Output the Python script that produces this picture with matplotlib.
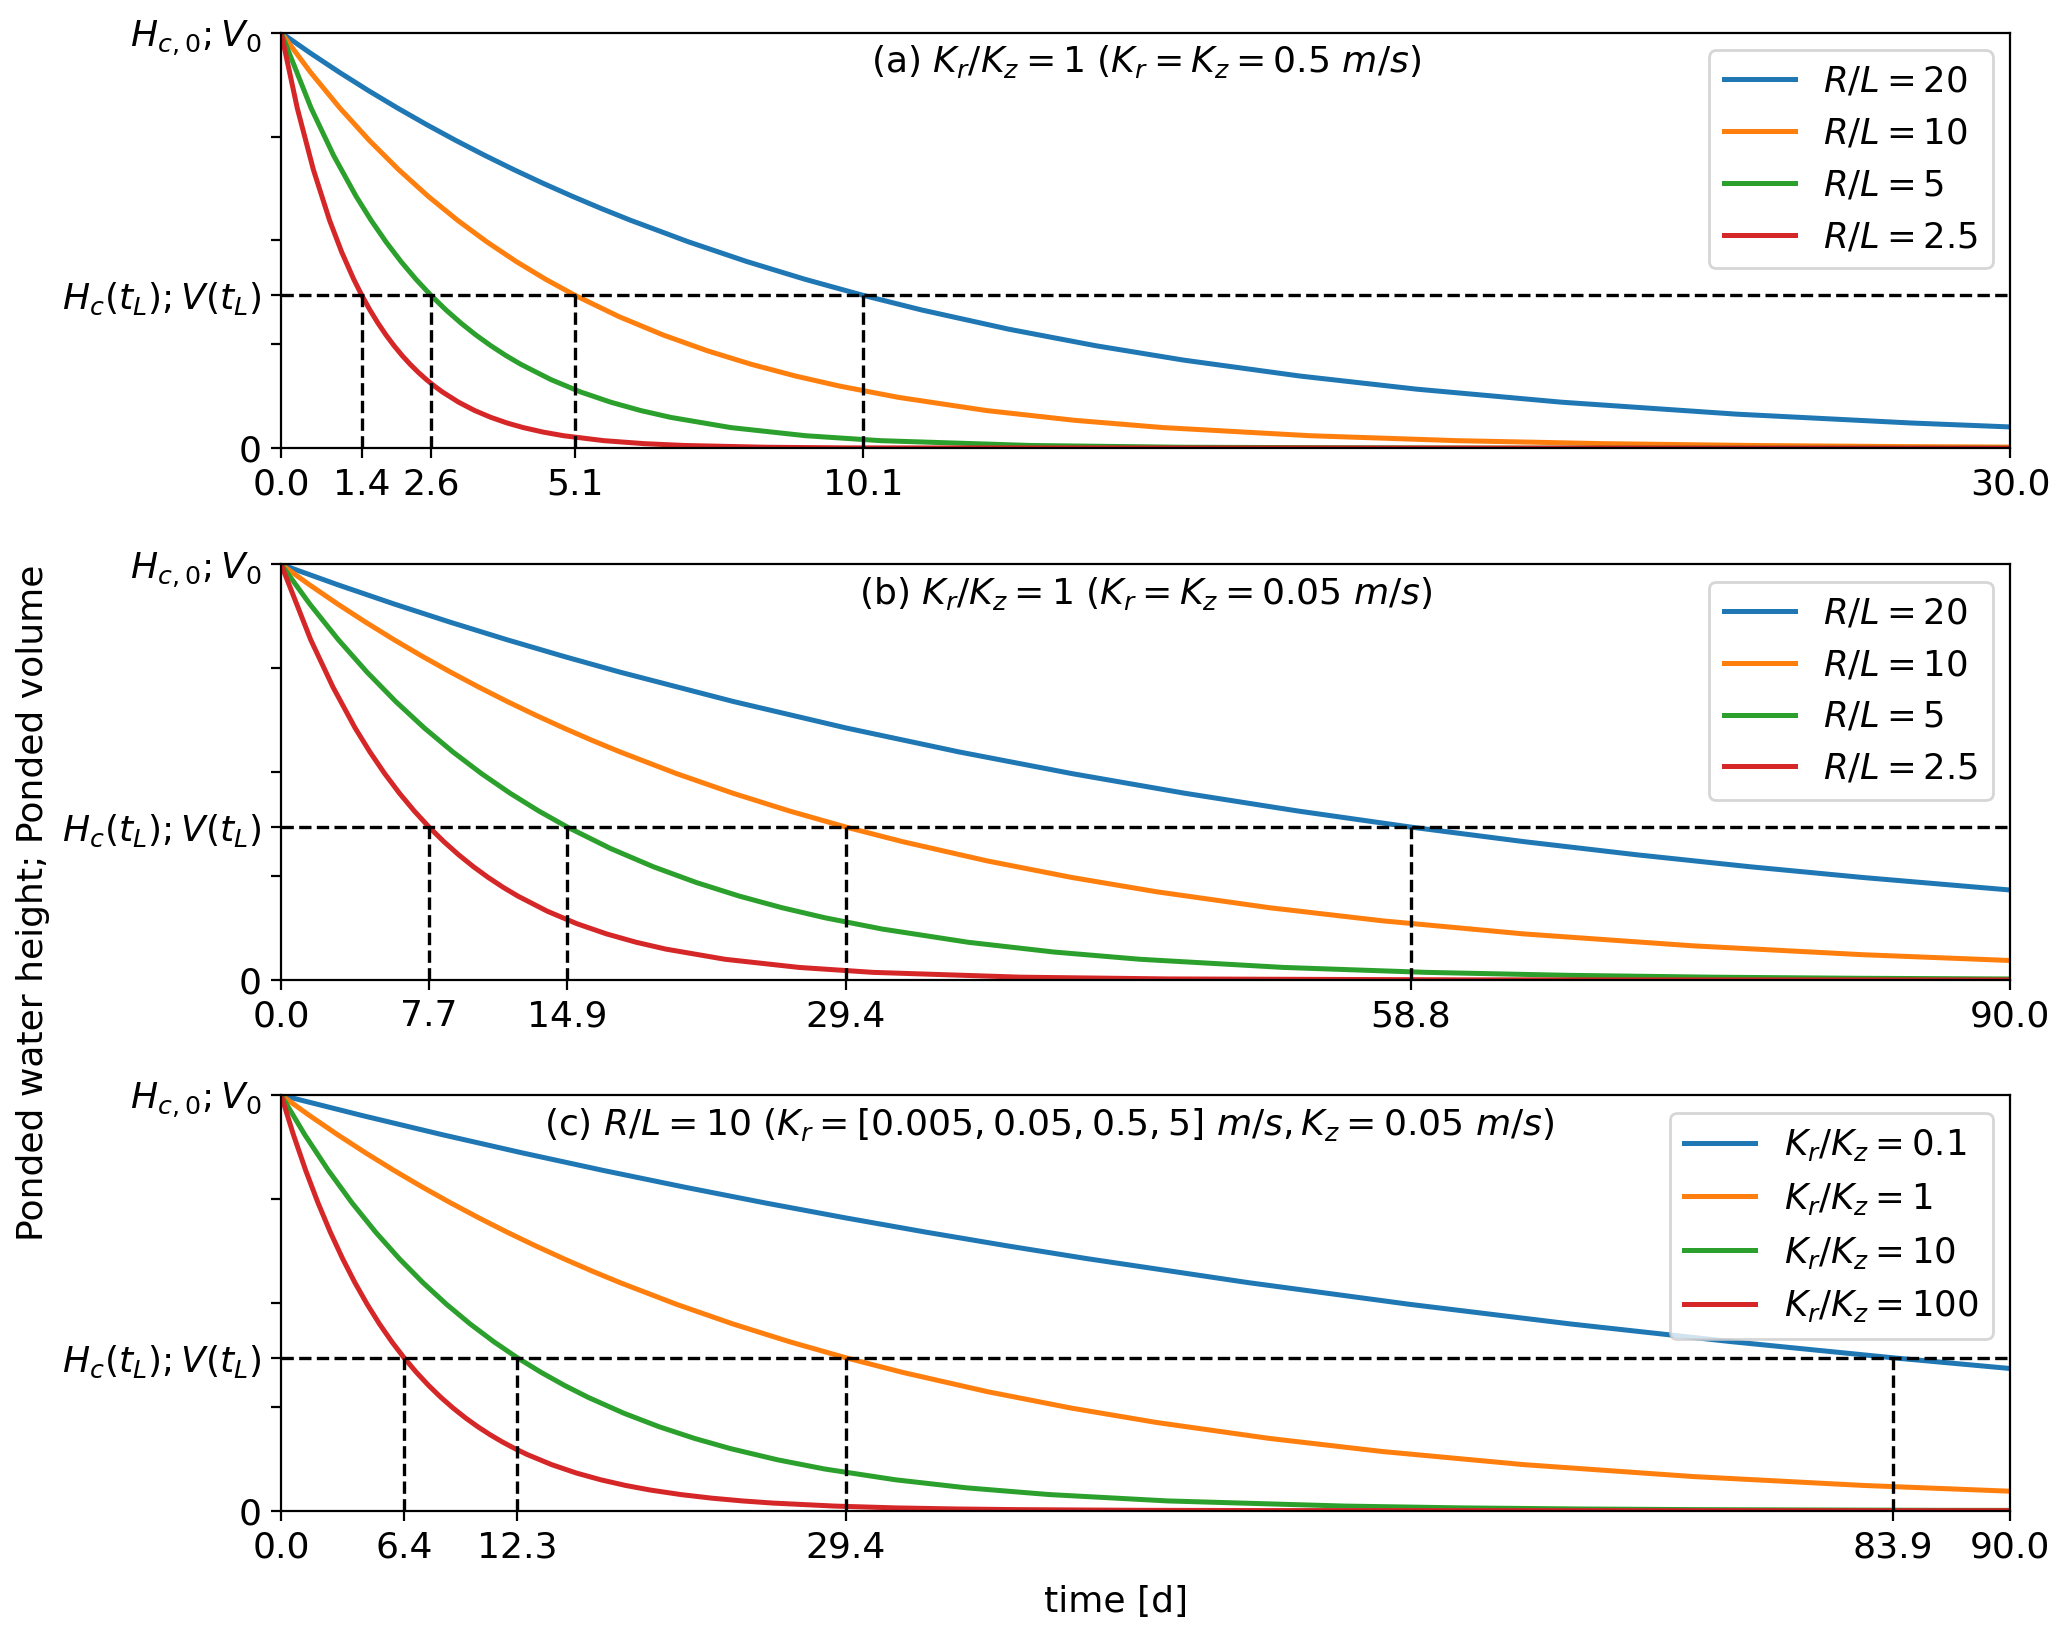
import matplotlib
matplotlib.use("Agg")
import matplotlib.pyplot as plt
from matplotlib.ticker import FormatStrFormatter

# level of H_c(t_L); V(t_L) as a fraction of the initial value
h_tl = 0.368

# (a) Kr/Kz = 1, Kr = Kz = 0.5 m/s   (time in days, relative height)
ta_rl20 = [0, 0.505, 1.01, 1.515, 2.02, 2.525, 3.03, 3.535, 4.04, 4.545, 5.05,
           5.555, 6.06, 7.07, 8.08, 9.09, 10.1, 11.11, 12.625, 14.14, 15.655,
           17.675, 19.695, 22.22, 25.25, 28.28, 30]
a_rl20 = [1, 0.9512, 0.9048, 0.8607, 0.8187, 0.7788, 0.7408, 0.7047, 0.6703,
          0.6376, 0.6065, 0.5769, 0.5488, 0.4966, 0.4493, 0.4066, 0.3679,
          0.3329, 0.2865, 0.2466, 0.2122, 0.1738, 0.1423, 0.1108, 0.0821,
          0.0608, 0.0513]
ta_rl10 = [0, 0.51, 1.02, 1.53, 2.04, 2.55, 3.06, 3.57, 4.08, 4.59, 5.1,
           5.865, 6.63, 7.395, 8.16, 8.925, 9.69, 10.71, 12.24, 13.77, 15.3,
           17.85, 20.4, 22.95, 25.5, 28.05, 30]
a_rl10 = [1, 0.9048, 0.8187, 0.7408, 0.6703, 0.6065, 0.5488, 0.4966, 0.4493,
          0.4066, 0.3679, 0.3166, 0.2725, 0.2346, 0.2019, 0.1738, 0.1496,
          0.1225, 0.0907, 0.0672, 0.0498, 0.0302, 0.0183, 0.0111, 0.0067,
          0.0041, 0.0028]
ta_rl5 = [0, 0.52, 0.91, 1.3, 1.56, 1.82, 2.08, 2.34, 2.6, 2.86, 3.12, 3.38,
          3.64, 3.9, 4.16, 4.68, 5.2, 5.72, 6.24, 6.76, 7.8, 9.1, 10.4, 13,
          15.6, 20.8, 30]
a_rl5 = [1, 0.8187, 0.7047, 0.6065, 0.5488, 0.4966, 0.4493, 0.4066, 0.3679,
         0.3329, 0.3012, 0.2725, 0.2466, 0.2231, 0.2019, 0.1653, 0.1353,
         0.1108, 0.0907, 0.0743, 0.0498, 0.0302, 0.0183, 0.0067, 0.0025,
         0.0003, 0.0]
ta_rl2_5 = [0, 0.28, 0.56, 0.84, 1.05, 1.26, 1.4, 1.54, 1.68, 1.82, 1.96, 2.1,
            2.24, 2.38, 2.52, 2.66, 2.8, 3.08, 3.36, 3.64, 3.92, 4.2, 4.55,
            4.9, 5.6, 6.3, 7.0, 8.4, 9.8, 30]
a_rl2_5 = [1, 0.8187, 0.6703, 0.5488, 0.4724, 0.4066, 0.3679, 0.3329, 0.3012,
           0.2725, 0.2466, 0.2231, 0.2019, 0.1827, 0.1653, 0.1496, 0.1353,
           0.1108, 0.0907, 0.0743, 0.0608, 0.0498, 0.0388, 0.0302, 0.0183,
           0.0111, 0.0067, 0.0025, 0.0009, 0.0]
tl_a = [1.4, 2.6, 5.1, 10.1]
xmax_a = 30.0

# (b) Kr/Kz = 1, Kr = Kz = 0.05 m/s
tb_rl20 = [0, 2.94, 5.88, 8.82, 11.76, 14.7, 17.64, 23.52, 29.4, 35.28, 41.16,
           47.04, 52.92, 58.8, 64.68, 70.56, 76.44, 82.32, 90]
b_rl20 = [1, 0.9512, 0.9048, 0.8607, 0.8187, 0.7788, 0.7408, 0.6703, 0.6065,
          0.5488, 0.4966, 0.4493, 0.4066, 0.3679, 0.3329, 0.3012, 0.2725,
          0.2466, 0.2164]
tb_rl10 = [0, 1.47, 2.94, 4.41, 5.88, 7.35, 8.82, 10.29, 11.76, 13.23, 14.7,
           16.17, 17.64, 20.58, 23.52, 26.46, 29.4, 32.34, 36.75, 41.16, 45.57,
           51.45, 57.33, 64.68, 73.5, 82.32, 90]
b_rl10 = [1, 0.9512, 0.9048, 0.8607, 0.8187, 0.7788, 0.7408, 0.7047, 0.6703,
          0.6376, 0.6065, 0.5769, 0.5488, 0.4966, 0.4493, 0.4066, 0.3679,
          0.3329, 0.2865, 0.2466, 0.2122, 0.1738, 0.1423, 0.1108, 0.0821,
          0.0608, 0.0468]
tb_rl5 = [0, 1.49, 2.98, 4.47, 5.96, 7.45, 8.94, 10.43, 11.92, 13.41, 14.9,
          17.135, 19.37, 21.605, 23.84, 26.075, 28.31, 31.29, 35.76, 40.23,
          44.7, 52.15, 59.6, 67.05, 74.5, 81.95, 90]
b_rl5 = [1, 0.9048, 0.8187, 0.7408, 0.6703, 0.6065, 0.5488, 0.4966, 0.4493,
         0.4066, 0.3679, 0.3166, 0.2725, 0.2346, 0.2019, 0.1738, 0.1496,
         0.1225, 0.0907, 0.0672, 0.0498, 0.0302, 0.0183, 0.0111, 0.0067,
         0.0041, 0.0024]
tb_rl2_5 = [0, 1.54, 2.7, 3.85, 4.62, 5.39, 6.16, 6.93, 7.7, 8.47, 9.24,
            10.01, 10.78, 11.55, 12.32, 13.86, 15.4, 16.94, 18.48, 20.02,
            23.1, 26.95, 30.8, 38.5, 46.2, 61.6, 90]
b_rl2_5 = [1, 0.8187, 0.7047, 0.6065, 0.5488, 0.4966, 0.4493, 0.4066, 0.3679,
           0.3329, 0.3012, 0.2725, 0.2466, 0.2231, 0.2019, 0.1653, 0.1353,
           0.1108, 0.0907, 0.0743, 0.0498, 0.0302, 0.0183, 0.0067, 0.0025,
           0.0003, 0.0]
tl_b = [7.7, 14.9, 29.4, 58.8]
xmax_b = 90.0

# (c) R/L = 10, Kz = 0.05 m/s, Kr varied
tc_kr01 = [0, 4.195, 8.39, 12.585, 16.78, 20.975, 25.17, 29.365, 33.56,
           37.755, 41.95, 50.34, 58.73, 67.12, 75.51, 83.9, 90]
c_kr01 = [1, 0.9512, 0.9048, 0.8607, 0.8187, 0.7788, 0.7408, 0.7047, 0.6703,
          0.6376, 0.6065, 0.5488, 0.4966, 0.4493, 0.4066, 0.3679, 0.3421]
tc_kr1 = [0, 1.47, 2.94, 4.41, 5.88, 7.35, 8.82, 10.29, 11.76, 13.23, 14.7,
          16.17, 17.64, 20.58, 23.52, 26.46, 29.4, 32.34, 36.75, 41.16, 45.57,
          51.45, 57.33, 64.68, 73.5, 82.32, 90]
c_kr1 = [1, 0.9512, 0.9048, 0.8607, 0.8187, 0.7788, 0.7408, 0.7047, 0.6703,
         0.6376, 0.6065, 0.5769, 0.5488, 0.4966, 0.4493, 0.4066, 0.3679,
         0.3329, 0.2865, 0.2466, 0.2122, 0.1738, 0.1423, 0.1108, 0.0821,
         0.0608, 0.0468]
tc_kr10 = [0, 1.23, 2.46, 3.69, 4.92, 6.15, 7.38, 8.61, 9.84, 11.07, 12.3,
           13.53, 14.76, 15.99, 17.835, 19.68, 21.525, 23.37, 25.83, 28.29,
           31.98, 35.67, 39.975, 46.125, 55.35, 61.5, 67.65, 73.8, 86.1, 90]
c_kr10 = [1, 0.9048, 0.8187, 0.7408, 0.6703, 0.6065, 0.5488, 0.4966, 0.4493,
          0.4066, 0.3679, 0.3329, 0.3012, 0.2725, 0.2346, 0.2019, 0.1738,
          0.1496, 0.1225, 0.1003, 0.0743, 0.0550, 0.0388, 0.0235, 0.0111,
          0.0067, 0.0041, 0.0025, 0.0009, 0.0007]
tc_kr100 = [0, 0.64, 1.28, 1.92, 2.56, 3.2, 3.84, 4.48, 5.12, 5.76, 6.4, 7.04,
            7.68, 8.32, 8.96, 9.6, 10.24, 10.88, 11.52, 12.16, 12.8, 14.08,
            15.36, 16.64, 17.92, 19.2, 20.8, 22.4, 24.0, 25.6, 28.8, 32, 35.2,
            38.4, 44.8, 51.2, 90]
c_kr100 = [1, 0.9048, 0.8187, 0.7408, 0.6703, 0.6065, 0.5488, 0.4966, 0.4493,
           0.4066, 0.3679, 0.3329, 0.3012, 0.2725, 0.2466, 0.2231, 0.2019,
           0.1827, 0.1653, 0.1496, 0.1353, 0.1108, 0.0907, 0.0743, 0.0608,
           0.0498, 0.0388, 0.0302, 0.0235, 0.0183, 0.0111, 0.0067, 0.0041,
           0.0025, 0.0009, 0.0003, 0.0]
tl_c = [6.4, 12.3, 29.4, 83.9]
xmax_c = 90.0

labels_rl = [r'$R/L = 20$', r'$R/L = 10$', r'$R/L = 5$', r'$R/L = 2.5$']
labels_kr = [r'$K_r/K_z = 0.1$', r'$K_r/K_z = 1$', r'$K_r/K_z = 10$',
             r'$K_r/K_z = 100$']

title_a = r'(a) $K_r/K_z = 1$ ($K_r = K_z = 0.5\ m/s$)'
title_b = r'(b) $K_r/K_z = 1$ ($K_r = K_z = 0.05\ m/s$)'
title_c = r'(c) $R/L = 10$ ($K_r = [0.005, 0.05, 0.5, 5]\ m/s, K_z = 0.05\ m/s$)'

colors = ['C0', 'C1', 'C2', 'C3']


def draw_panel(ax, curves, labels, tl, xmax, title, title_x):
	for (t, y), lab, col in zip(curves, labels, colors):
		ax.plot(t, y, color=col, lw=1.8, label=lab)
	ax.axhline(h_tl, color='k', ls='--', lw=1.2)
	for v in tl:
		ax.plot([v, v], [0, h_tl], 'k--', lw=1.2)
	ax.set_xlim(0, xmax)
	ax.set_ylim(0, 1)
	ax.set_xticks([0] + tl + [xmax])
	ax.xaxis.set_major_formatter(FormatStrFormatter('%.1f'))
	ax.set_yticks([0, 0.25, h_tl, 0.5, 0.75, 1])
	ax.set_yticklabels(['0', '', r'$H_c(t_L);V(t_L)$', '', '', r'$H_{c,0};V_0$'])
	ax.tick_params(labelsize=13)
	ax.text(title_x, 0.93, title, transform=ax.transAxes, ha='center',
	        va='center', fontsize=13)
	ax.legend(loc='upper right', fontsize=12.8)


fig = plt.figure(figsize=(10.335, 8.18), dpi=200)
ax_a = fig.add_axes([0.136, 0.726, 0.8366, 0.254])
ax_b = fig.add_axes([0.136, 0.401, 0.8366, 0.254])
ax_c = fig.add_axes([0.136, 0.0766, 0.8366, 0.254])

draw_panel(ax_a, [(ta_rl20, a_rl20), (ta_rl10, a_rl10), (ta_rl5, a_rl5),
                  (ta_rl2_5, a_rl2_5)], labels_rl, tl_a, xmax_a, title_a, 0.5)
draw_panel(ax_b, [(tb_rl20, b_rl20), (tb_rl10, b_rl10), (tb_rl5, b_rl5),
                  (tb_rl2_5, b_rl2_5)], labels_rl, tl_b, xmax_b, title_b, 0.5)
draw_panel(ax_c, [(tc_kr01, c_kr01), (tc_kr1, c_kr1), (tc_kr10, c_kr10),
                  (tc_kr100, c_kr100)], labels_kr, tl_c, xmax_c, title_c, 0.444)

fig.text(0.016, 0.448, 'Ponded water height; Ponded volume', rotation=90,
         ha='center', va='center', fontsize=13)
fig.text(0.54, 0.021, 'time [d]', ha='center', va='center', fontsize=13)

fig.savefig('out.png', dpi=200)
